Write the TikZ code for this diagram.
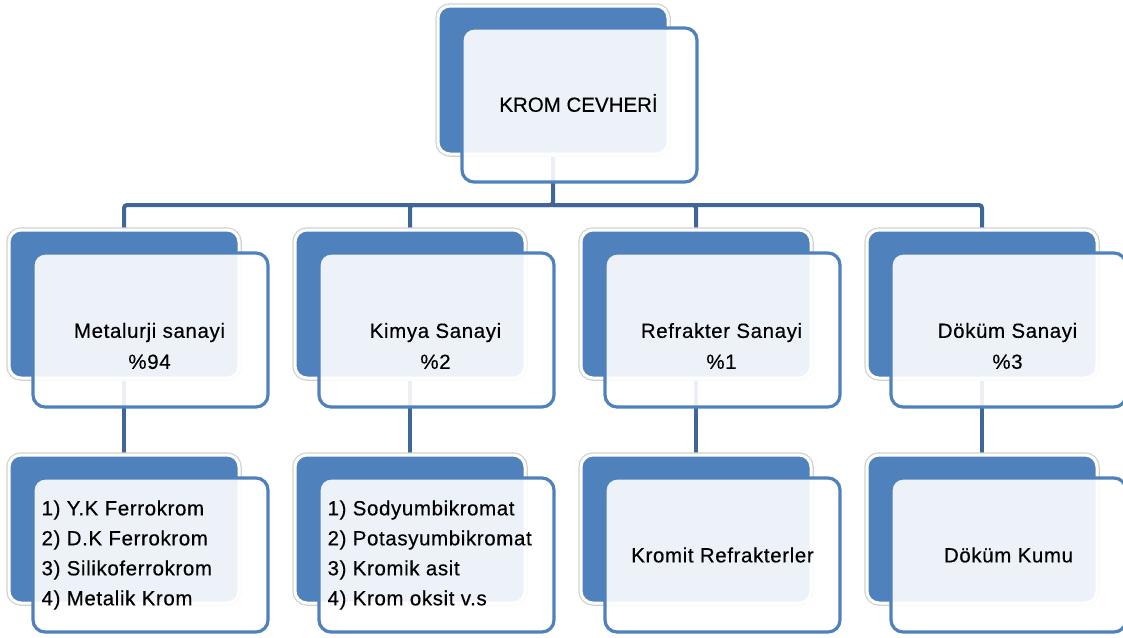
\documentclass[tikz,border=0pt]{standalone}
\usepackage{fontspec}
\setmainfont{Liberation Sans}
\newfontfamily\widesans[LetterSpace=3,FakeBold=0.4]{Liberation Sans}
\newfontfamily\capsans[FakeBold=0.4]{Liberation Sans}
\usetikzlibrary{positioning,calc,backgrounds}
\definecolor{backblue}{RGB}{79,129,189}
\definecolor{edgeblue}{RGB}{79,129,189}
\definecolor{linkblue}{RGB}{62,102,152}
\tikzset{
	backbox/.style={rounded corners=12pt, minimum width=230pt, minimum height=148pt, inner sep=0,
		fill=backblue, draw=white, line width=3pt, preaction={draw=black!18, line width=5.5pt}},
	frontbox/.style={rounded corners=12pt, minimum width=235pt, minimum height=154pt, inner sep=0,
		fill=white, fill opacity=0.9, draw=edgeblue, draw opacity=1, line width=3.2pt},
	boxtext/.style={align=center, font=\widesans\fontsize{20.5}{31}\selectfont, text=black, inner sep=0},
	listtext/.style={align=left, font=\widesans\fontsize{20.5}{30}\selectfont, text=black, inner sep=0, anchor=west},
	link/.style={draw=linkblue, line width=4pt, rounded corners=3pt}
}
\newcommand{\drawback}{\node[backbox]}
\newcommand{\drawfront}{\node[frontbox]}

\begin{document}
\begin{tikzpicture}[x=1pt,y=-1pt]
	\useasboundingbox (0,0) rectangle (1123,637);
	
	% top
	\drawback (kromback) at (553,80) {};
	\drawfront (krom) at ($(kromback)+(26.5,25)$) {};
	\node[boxtext, font=\capsans\fontsize{20.5}{31}\selectfont] (kromT) at ($(krom)+(-1,-2)$) {KROM CEVHERİ};
	
	% second row
	\drawback (metback) at (124,304) {};
	\drawback (kimback) at (410,304) {};
	\drawback (refback) at (696,304) {};
	\drawback (dokback) at (982,304) {};
	\drawfront (met) at ($(metback)+(26.5,26)$) {};
	\drawfront (kim) at ($(kimback)+(26.5,26)$) {};
	\drawfront (ref) at ($(refback)+(26.5,26)$) {};
	\drawfront (dok) at ($(dokback)+(26.5,26)$) {};
	\node[boxtext] (metT) at ($(met)+(-1,16)$) {Metalurji sanayi\\\%94};
	\node[boxtext] (kimT) at ($(kim)+(-1,16)$) {Kimya Sanayi\\\%2};
	\node[boxtext] (refT) at ($(ref)+(-1,16)$) {Refrakter Sanayi\\\%1};
	\node[boxtext] (dokT) at ($(dok)+(-1,16)$) {Döküm Sanayi\\\%3};
	
	% third row
	\drawback (metlback) at (124,529) {};
	\drawback (kimlback) at (410,529) {};
	\drawback (reflback) at (696,529) {};
	\drawback (doklback) at (982,529) {};
	\drawfront (metl) at ($(metlback)+(26.5,26)$) {};
	\drawfront (kiml) at ($(kimlback)+(26.5,26)$) {};
	\drawfront (refl) at ($(reflback)+(26.5,26)$) {};
	\drawfront (dokl) at ($(doklback)+(26.5,26)$) {};
	\node[listtext] (metlT) at ($(metl.west)+(10,0)$) {1) Y.K Ferrokrom\\2) D.K Ferrokrom\\3) Silikoferrokrom\\4) Metalik Krom};
	\node[listtext] (kimlT) at ($(kiml.west)+(10,0)$) {1) Sodyumbikromat\\2) Potasyumbikromat\\3) Kromik asit\\4) Krom oksit v.s};
	\node[boxtext] (reflT) at (refl) {Kromit Refrakterler};
	\node[boxtext] (doklT) at (dokl) {Döküm Kumu};
	
	% connectors behind the boxes
	\coordinate (bus) at (553,205);
	\begin{scope}[on background layer]
		\draw[link] (kromback) -- (bus) -| (metback);
		\draw[link] (bus) -| (kimback);
		\draw[link] (bus) -| (refback);
		\draw[link] (bus) -| (dokback);
		\draw[link] (metback) -- (metlback);
		\draw[link] (kimback) -- (kimlback);
		\draw[link] (refback) -- (reflback);
		\draw[link] (dokback) -- (doklback);
	\end{scope}
	
\end{tikzpicture}
\end{document}
